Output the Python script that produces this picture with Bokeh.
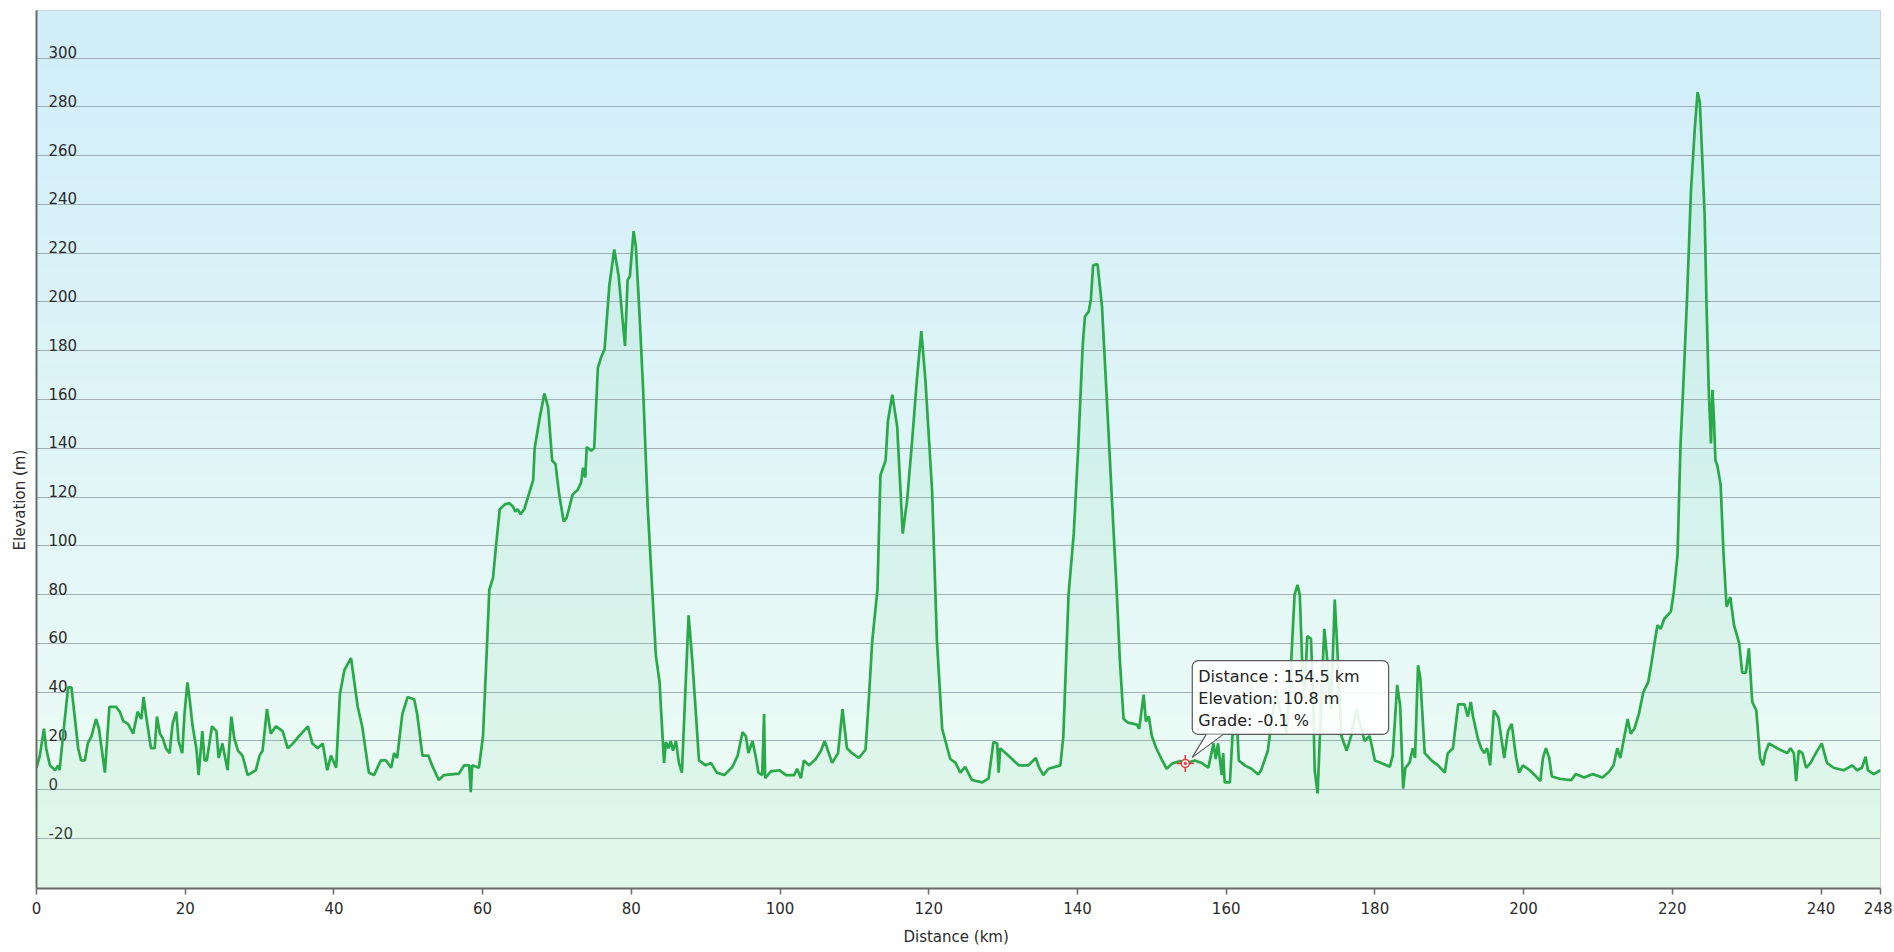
import numpy as np
from bokeh.plotting import figure
from bokeh.models import Range1d, FixedTicker, Label, Title
from bokeh.core.properties import value
from bokeh.embed import file_html
from bokeh.resources import INLINE

# ---------------- data ----------------
dist_km = [
    0, 0.45, 1.0, 1.3, 1.8, 2.5, 2.9, 3.1, 3.6, 4.25,
    4.7, 5.1, 5.6, 6.0, 6.5, 6.9, 7.4, 8.0, 8.4, 9.2,
    9.8, 10.7, 11.2, 11.7, 12.3, 13.0, 13.6, 14.1, 14.4, 14.8,
    15.4, 15.9, 16.2, 16.6, 17.0, 17.4, 17.9, 18.3, 18.8, 19.1,
    19.6, 19.9, 20.3, 20.6, 21.0, 21.5, 21.8, 22.3, 22.6, 22.9,
    23.6, 24.2, 24.5, 25.0, 25.7, 26.2, 26.6, 27.1, 27.7, 28.4,
    29.5, 30.0, 30.4, 31.0, 31.5, 32.2, 33.1, 33.8, 34.5, 35.3,
    36.5, 37.1, 37.8, 38.5, 39.1, 39.6, 40.3, 40.8, 41.4, 42.3,
    43.2, 43.8, 44.7, 45.4, 46.3, 47.0, 47.7, 48.1, 48.5, 49.2,
    49.9, 50.8, 51.2, 51.9, 52.7, 53.2, 54.1, 54.8, 56.4, 56.8,
    57.5, 58.2, 58.4, 58.6, 59.5,
    60.05, 60.5, 60.9, 61.4, 61.8, 62.3, 63.0, 63.6, 64.1, 64.4,
    64.7, 65.1, 65.6, 66.3, 66.8, 67.0, 67.65, 68.3, 68.8, 69.35,
    69.8, 70.3, 70.9, 71.3, 72.1, 72.8, 73.25, 73.5, 73.8, 74.0,
    74.6, 75.0, 75.5, 75.9, 76.4, 77.05, 77.7, 78.3, 78.75, 79.15,
    79.5, 79.8, 80.3, 80.6, 81.1, 81.6, 82.2, 82.9, 83.3, 83.8,
    84.1, 84.4, 84.65, 85.0, 85.3, 85.6, 86.0, 86.4, 86.8, 87.7,
    88.2, 89.1, 90.0, 90.7, 91.5, 92.5, 93.6, 94.3, 94.95, 95.4,
    95.75, 96.3, 96.7, 97.1, 97.6, 97.85, 98.0, 98.75, 99.9, 100.8,
    101.9, 102.3, 102.8, 103.2, 103.9, 104.8, 105.5, 106.0, 107.0, 107.8,
    108.4, 109.0, 109.7, 110.6, 111.5, 111.95, 112.4, 113.1, 113.5, 114.2,
    114.5, 115.1, 115.75, 116.5, 117.1, 117.8, 118.4, 119.0, 119.55,
    120.45, 121.1, 121.8, 122.5, 122.9, 123.6, 124.25, 124.9, 125.8, 127.2,
    128.05, 128.7, 129.2, 129.4, 129.6, 130.7, 132.1, 133.4, 134.4, 134.8,
    135.4, 136.1, 137.7, 138.1, 138.8, 139.5, 140.1, 140.7, 141.0, 141.5,
    141.8, 142.1, 142.7, 143.3, 143.9, 144.6, 145.3, 145.7, 146.2, 146.8,
    148.0, 148.3, 148.9, 149.2, 149.6, 150.0, 150.6, 151.3, 152.0, 152.7,
    153.8, 154.5, 155.8, 156.7, 157.6, 158.3, 158.6, 158.9, 159.4, 159.6,
    159.8, 160.5, 160.9, 161.4, 161.7, 162.5, 163.4, 164.3, 164.7, 165.6,
    166.1, 166.8, 167.2, 167.65, 168.1, 168.5, 169.2, 169.6, 169.9, 170.3,
    170.6, 170.9, 171.4, 171.7, 171.9, 172.3, 172.6, 172.9, 173.2, 173.6,
    174.1, 174.6, 174.9, 175.5, 176.2, 176.8, 177.5, 178.2, 178.6, 179.3,
    180.0, 180.85, 182.0, 182.4, 183.0, 183.4,
    183.8, 184.1, 184.65, 185.1, 185.4, 185.8, 186.1, 186.7, 187.6, 188.5,
    189.4, 189.8, 190.5, 191.2, 192.05, 192.5, 192.9, 193.2, 193.85, 194.3,
    194.7, 195.1, 195.5, 196.0, 196.6, 197.4, 197.9, 198.4, 199.0, 199.4,
    199.9, 200.8, 201.7, 202.25, 202.6, 203.0, 203.45, 203.8, 205.0, 206.4,
    207.0, 208.15, 209.3, 210.6, 211.5, 212.1, 212.6, 213.0, 213.5, 214.0,
    214.4, 214.9, 215.5, 216.1, 216.75, 217.2, 217.55, 218.0, 218.45, 218.9,
    219.8, 220.2, 220.7, 221.1, 221.6, 222.0, 222.5, 223.0, 223.4, 223.7,
    224.0, 224.35, 224.6, 224.9, 225.2, 225.4, 225.6, 225.8, 226.05, 226.5,
    226.9, 227.3, 227.8, 228.3, 229.0, 229.4, 229.9, 230.3, 230.75, 231.3,
    231.8, 232.2, 232.5, 233.0, 234.1, 235.45, 235.9, 236.35, 236.65, 237.0,
    237.5, 238.0, 238.6, 239.3, 240.1, 240.8, 241.7, 243.05, 244.2, 244.85,
    245.5, 246.0, 246.3, 247.1, 248.0,
]

elev_m = [
    9, 14, 25, 17, 10, 8, 10, 8, 23, 42,
    42, 31, 17, 12, 12, 19, 22, 29, 25, 7,
    34, 34, 32, 28, 27, 23, 32, 29, 38, 29,
    17, 17, 30, 23, 21, 17, 15, 27, 32, 20,
    15, 31, 44, 37, 26, 17, 6, 24, 12, 12,
    26, 24, 13, 19, 8, 30, 21, 16, 14, 6,
    8, 14, 16, 33, 23, 26, 24, 17, 19, 22,
    26, 19, 17, 19, 8, 14, 9, 39, 49, 54,
    34, 26, 7, 6, 12, 12, 9, 15, 13, 31,
    38, 37, 31, 14, 14, 10, 4, 6, 6.5, 6.5,
    10, 10, -1, 10, 9,
    22, 53, 82, 87, 100, 115, 117, 117.5, 116, 114,
    115, 113, 115, 122, 127, 140, 152, 162.5, 157, 135,
    133.5, 121, 110, 111.5, 121, 123, 126, 132, 128, 140.5,
    139, 140, 173, 177, 180.6, 207, 221.5, 210.5, 195, 182,
    209, 210.5, 229, 223, 195, 163, 116, 77, 55, 44,
    27, 11, 19.6, 17, 20, 16, 20, 11, 7, 71.5,
    53, 12, 10, 11, 7, 6, 9.4, 14, 23.6, 22,
    15, 20, 14, 7, 6, 31, 4.7, 7.5, 8, 6,
    6, 8.6, 4.7, 12, 10, 12.6, 16, 20, 11, 15,
    33, 17, 15, 13, 16.5, 37.7, 61, 82, 129, 135,
    151, 162, 149, 105, 119, 144.5, 168, 188, 168,
    122.5, 61, 25, 17, 12.6, 11, 7, 9.4, 4, 3,
    4.7, 19.6, 19, 7, 17, 14, 10, 10, 13, 9.4,
    6, 8.6, 10, 22, 80, 105, 140, 182, 194, 196,
    201, 215, 215.5, 198, 163, 121, 80, 53, 29, 27.5,
    26.7, 25, 39, 28, 30, 22, 17, 12.6, 8.6, 10.7,
    11.8, 10.8, 12, 11, 9, 19, 12.6, 19, 6, 15,
    3, 3, 25, 31, 12, 10, 8.6, 6.3, 8, 16,
    28, 41, 33, 30, 23, 38, 80, 84, 80, 45.5,
    41, 63, 62, 38, 8, -1.5, 22, 45.5, 66, 53,
    33, 78, 61, 22, 16, 22, 33, 25, 20, 22,
    12, 11, 9.4, 14, 43, 34.5,
    0.5, 9, 11, 17, 13, 51, 46, 15, 12, 10,
    7, 15, 17, 35, 35, 30, 36, 30, 21, 17,
    15, 17, 10, 32.5, 29.6, 13, 24, 27, 13, 7,
    10, 8, 5.4, 3.5, 13, 17, 13, 5.4, 4.4, 3.9,
    6.4, 5, 6.4, 5, 7.4, 10, 17, 13, 21, 29,
    23, 25, 31, 40, 44, 52, 59, 67.5, 66, 70,
    73, 81, 96, 141, 174, 203, 245, 270, 286, 282,
    261, 235.5, 199, 164, 142, 164, 152, 135, 133, 125,
    96, 75, 79, 67.5, 60, 48, 48, 58, 36, 32.5,
    13, 10, 15, 19, 17, 15, 17, 15, 3.5, 16,
    15, 9, 11, 15, 19, 11, 9, 8, 10, 8,
    9, 13.5, 8, 6.4, 8,
]
assert len(dist_km) == len(elev_m)

x_ticks = [0, 20, 40, 60, 80, 100, 120, 140, 160, 180, 200, 220, 240, 248]
x_tick_labels = [str(t) for t in x_ticks]
y_ticks = [-20, 0, 20, 40, 60, 80, 100, 120, 140, 160, 180, 200, 220, 240, 260, 280, 300]
y_tick_labels = [str(t) for t in y_ticks]

tip_dist = 154.5
tip_elev = 10.8
tip_grade = -0.1
tip_text = "Distance  : %.1f km\nElevation: %.1f m\nGrade: %.1f %%" % (tip_dist, tip_elev, tip_grade)

x_title = "Distance  (km)"
y_title = "Elevation (m)"

# ---------------- layout / style ----------------
X_MIN, X_MAX = 0, 248
Y_MIN, Y_MAX = -40.5, 319.5
W, H = 1892, 950
B_LEFT, B_RIGHT, B_TOP, B_BOTTOM = 36, 12, 10, 62
FONT = "DejaVu Sans"
TXT = "#2b2b2b"
AXIS = "#6a6a6a"

p = figure(width=W, height=H, output_backend="svg", toolbar_location=None,
           x_range=Range1d(X_MIN, X_MAX), y_range=Range1d(Y_MIN, Y_MAX),
           min_border_left=B_LEFT, min_border_right=B_RIGHT,
           min_border_top=B_TOP, min_border_bottom=B_BOTTOM)
p.background_fill_color = "white"
p.border_fill_color = "white"
p.outline_line_color = "#c9c9c9"
p.outline_line_width = 1

# gradient background (light blue top -> light mint bottom)
n = 256
top = np.array([209, 238, 250], dtype=float)
bot = np.array([240, 253, 245], dtype=float)
t = np.linspace(0, 1, n)[:, None]
cols = (bot * (1 - t) + top * t).astype(np.uint8)
img = np.zeros((n, 1), dtype=np.uint32)
view = img.view(dtype=np.uint8).reshape((n, 1, 4))
view[:, 0, 0] = cols[:, 0]
view[:, 0, 1] = cols[:, 1]
view[:, 0, 2] = cols[:, 2]
view[:, 0, 3] = 255
bg = p.image_rgba(image=[img], x=X_MIN, y=Y_MIN, dw=X_MAX - X_MIN, dh=Y_MAX - Y_MIN)
bg.level = "image"

# grid
p.xgrid.visible = False
p.ygrid.ticker = FixedTicker(ticks=y_ticks)
p.ygrid.grid_line_color = "#9aa6ae"
p.ygrid.grid_line_width = 1.2
p.ygrid.grid_line_alpha = 0.9

# x axis (labels from the axis itself)
p.xaxis.ticker = FixedTicker(ticks=x_ticks)
p.xaxis.major_label_overrides = {tk: lab for tk, lab in zip(x_ticks, x_tick_labels)}
p.xaxis.major_label_standoff = 7
p.xaxis.major_label_text_font = FONT
p.xaxis.major_label_text_font_size = "15px"
p.xaxis.major_label_text_color = TXT
p.xaxis.axis_label = x_title
p.xaxis.axis_label_standoff = 11
p.xaxis.axis_label_text_font = FONT
p.xaxis.axis_label_text_font_size = "15px"
p.xaxis.axis_label_text_font_style = "normal"
p.xaxis.axis_label_text_color = TXT
p.xaxis.axis_line_color = AXIS
p.xaxis.axis_line_width = 2
p.xaxis.major_tick_line_color = AXIS
p.xaxis.major_tick_line_width = 1.5
p.xaxis.major_tick_out = 6
p.xaxis.major_tick_in = 0
p.xaxis.minor_tick_line_color = None

# y axis: line only; tick labels drawn inside the plot, title as a left Title
p.yaxis.ticker = FixedTicker(ticks=y_ticks)
p.yaxis.major_label_overrides = {tk: "" for tk in y_ticks}
p.yaxis.major_label_standoff = 0
p.yaxis.axis_line_color = AXIS
p.yaxis.axis_line_width = 2
p.yaxis.major_tick_line_color = None
p.yaxis.minor_tick_line_color = None

ytitle = Title(text=y_title, align="left", offset=338, standoff=4,
               text_font=FONT, text_font_size="15px", text_font_style="normal",
               text_color=TXT)
p.add_layout(ytitle, "left")

p.text(x=[X_MIN] * len(y_ticks), y=y_ticks, text=y_tick_labels,
       x_offset=12, y_offset=-6, text_align="left", text_baseline="alphabetic",
       text_font=value(FONT), text_font_size="15px", text_color=TXT)

# elevation profile
p.varea(x=dist_km, y1=Y_MIN, y2=elev_m, fill_color="#7fd99b", fill_alpha=0.12)
p.line(dist_km, elev_m, line_color="#2aa94a", line_width=2.7)

# tooltip
frame_w = W - B_LEFT - B_RIGHT
frame_h = H - B_TOP - B_BOTTOM
px_per_km = frame_w / (X_MAX - X_MIN)
px_per_m = frame_h / (Y_MAX - Y_MIN)
tip = Label(x=tip_dist, y=tip_elev, x_offset=7, y_offset=29, text=tip_text,
            text_align="left", text_baseline="bottom", text_font=FONT,
            text_font_size="16px", text_color="#222222", text_line_height=1.18,
            background_fill_color="white", background_fill_alpha=0.88,
            border_line_color="#5a5a5a", border_line_width=1.2,
            padding=dict(left=6, right=24, top=6, bottom=4), border_radius=6)
p.add_layout(tip)

ptr_px = [(7, 6), (21, 29), (38, 29)]
ptr_x = [tip_dist + dx / px_per_km for dx, dy in ptr_px]
ptr_y = [tip_elev + dy / px_per_m for dx, dy in ptr_px]
pr = p.patch(ptr_x, ptr_y, fill_color="white", fill_alpha=0.95, line_color=None)
pr.level = "overlay"
for a, b in [(0, 1), (0, 2)]:
    lr = p.line([ptr_x[a], ptr_x[b]], [ptr_y[a], ptr_y[b]], line_color="#5a5a5a", line_width=1.2)
    lr.level = "overlay"

m1 = p.scatter([tip_dist], [tip_elev], marker="cross", size=17, line_color="#e8383d", line_width=1.5)
m2 = p.scatter([tip_dist], [tip_elev], marker="circle", size=8, fill_color="white",
               line_color="#e8383d", line_width=1.5)
m3 = p.scatter([tip_dist], [tip_elev], marker="circle", size=2.5, fill_color="#e8383d",
               line_color="#e8383d")
for m in (m1, m2, m3):
    m.level = "overlay"

open("out.html", "w").write(file_html(p, INLINE))
